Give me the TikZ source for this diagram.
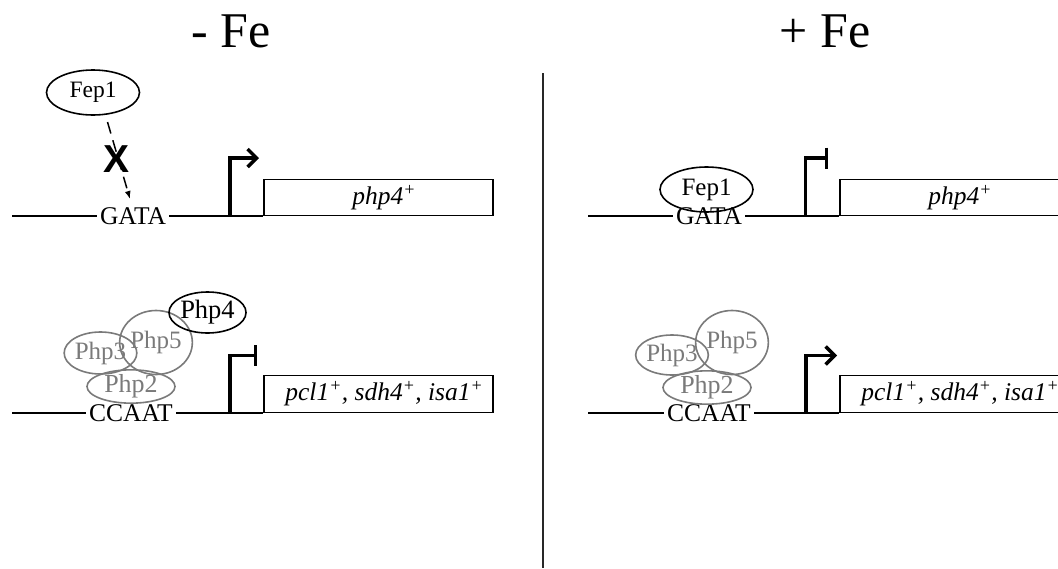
\documentclass[tikz,border=0pt]{standalone}
\usepackage{fontspec}
\setmainfont{Liberation Serif}
\setsansfont{Liberation Sans}
\usetikzlibrary{arrows.meta,shapes.geometric}
\definecolor{subgray}{RGB}{122,122,122}
\definecolor{rulegray}{RGB}{40,40,40}
\tikzset{
  dna/.style={line width=1.6pt},
  site/.style={inner sep=3pt, font=\fontsize{25.5}{28}\selectfont},
  gene/.style={draw, line width=1.5pt, minimum width=229pt, minimum height=36pt,
    anchor=south west, inner sep=0pt, font=\fontsize{25.5}{28}\selectfont\itshape},
  factor/.style={draw, ellipse, line width=1.6pt, inner sep=0pt,
    font=\fontsize{23.5}{28}\selectfont},
  subunit/.style={factor, draw=subgray, text=subgray, font=\fontsize{25}{28}\selectfont},
  promoter/.style={line width=3.5pt},
  active/.style={promoter, -{Straight Barb[length=9pt,width=18pt]}},
  silent/.style={promoter, -{Bar[width=21pt]}},
  title/.style={anchor=base, font=\fontsize{50}{60}\selectfont},
  blocked/.style={dashed, dash pattern=on 12pt off 7pt, line width=1.5pt,
    -{Latex[length=8pt,width=6pt]}},
}
\begin{document}
\begin{tikzpicture}[x=1pt,y=-1pt]
\useasboundingbox (0,0) rectangle (1058,568);
\clip (0,0) rectangle (1058,568);

% headings and separator
\node[title] (minus) at (231,47) {- Fe};
\node[title] (plus)  at (825,47) {+ Fe};
\coordinate (sepTop) at (542.5,73);
\coordinate (sepBot) at (542.5,568);
\draw[rulegray, line width=2pt] (sepTop) -- (sepBot);

% ---------------- iron-depleted cells ----------------
% php4+ locus
\coordinate (lA0) at (12,216);
\node[site] (lgata) at (133,216) {GATA};
\node[gene] (lbox1) at (263,216) {\hspace*{12pt}php4\textsuperscript{+}};
\draw[dna] (lA0) -- (lgata.west);
\draw[dna] (lgata.east) -- (lbox1.south west);
\coordinate (ltss1) at (230,216);
\coordinate (ltip1) at (259,158);
\draw[active] (ltss1) |- (ltip1);

\node[factor, minimum width=93pt, minimum height=45pt] (lfep) at (93,92.5) {Fep1};
\coordinate (dstart) at (107.5,122);
\coordinate (dend) at (130,199);
\draw[blocked] (dstart) -- (dend);
\node[inner sep=0pt, font=\fontsize{39}{40}\selectfont\sffamily\bfseries] (block) at (116.5,159) {X};

% iron-regulated genes
\coordinate (lB0) at (12,413);
\node[site] (lccaat) at (131,413) {CCAAT};
\node[gene, minimum height=37pt] (lbox2) at (263,413) {\hspace*{12pt}pcl1\textsuperscript{+}, sdh4\textsuperscript{+}, isa1\textsuperscript{+}};
\draw[dna] (lB0) -- (lccaat.west);
\draw[dna] (lccaat.east) -- (lbox2.south west);
\coordinate (ltss2) at (230,413);
\coordinate (ltip2) at (257,355.5);
\draw[silent] (ltss2) |- (ltip2);

\node[subunit, minimum width=56pt, minimum height=42pt] (lphp3) at (100.5,353) {Php3};
\node[subunit, minimum width=56pt, minimum height=64pt] (lphp5) at (156,342.5) {Php5};
\node[subunit, minimum width=88pt, minimum height=31pt, font=\fontsize{26}{28}\selectfont] (lphp2) at (131,386.5) {Php2};
\node[factor, minimum width=72pt, minimum height=41pt, font=\fontsize{26.5}{28}\selectfont] (lphp4) at (207.5,312.5) {Php4};

% ---------------- iron-replete cells ----------------
% php4+ locus
\coordinate (rA0) at (588,216);
\node[site] (rgata) at (709,216) {GATA};
\node[gene] (rbox1) at (839,216) {\hspace*{12pt}php4\textsuperscript{+}};
\draw[dna] (rA0) -- (rgata.west);
\draw[dna] (rgata.east) -- (rbox1.south west);
\coordinate (rtss1) at (805.5,216);
\coordinate (rtip1) at (828,158);
\draw[silent] (rtss1) |- (rtip1);
\node[factor, minimum width=93pt, minimum height=45pt, font=\fontsize{25}{28}\selectfont] (rfep) at (706.5,189.5) {Fep1};

% iron-regulated genes
\coordinate (rB0) at (588,413);
\node[site] (rccaat) at (709,413) {CCAAT};
\node[gene, minimum height=37pt] (rbox2) at (839,413) {\hspace*{12pt}pcl1\textsuperscript{+}, sdh4\textsuperscript{+}, isa1\textsuperscript{+}};
\draw[dna] (rB0) -- (rccaat.west);
\draw[dna] (rccaat.east) -- (rbox2.south west);
\coordinate (rtss2) at (806,413);
\coordinate (rtip2) at (837,355.5);
\draw[active] (rtss2) |- (rtip2);

\node[subunit, minimum width=52pt, minimum height=40pt] (rphp3) at (672,355) {Php3};
\node[subunit, minimum width=58pt, minimum height=64pt] (rphp5) at (732,342.5) {Php5};
\node[subunit, minimum width=88pt, minimum height=31pt, font=\fontsize{26}{28}\selectfont] (rphp2) at (707,387.5) {Php2};
\end{tikzpicture}
\end{document}
